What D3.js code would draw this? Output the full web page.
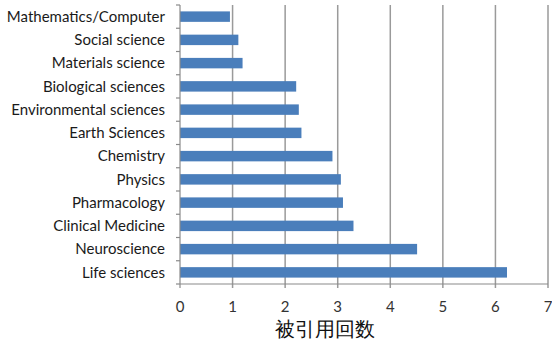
<!DOCTYPE html>
<html><head><meta charset="utf-8">
<script src="https://cdn.jsdelivr.net/npm/d3@7"></script>
<style>
body{margin:0;background:#fff;}
text{font-family:Lato,"Open Sans",sans-serif;}
</style></head>
<body>
<svg id="c" width="552" height="342"></svg>
<script>
const categories = ["Mathematics/Computer","Social science","Materials science","Biological sciences","Environmental sciences","Earth Sciences","Chemistry","Physics","Pharmacology","Clinical Medicine","Neuroscience","Life sciences"];
const values = [0.95,1.11,1.19,2.21,2.26,2.31,2.90,3.06,3.10,3.30,4.51,6.22];
const xTicks = [0,1,2,3,4,5,6,7];
const xTitle = "被引用回数";

const svg = d3.select("#c");
const m = {left:180, right:4, top:5, bottom:58};
const W = 552, H = 342;
const x = d3.scaleLinear().domain([0,7]).range([m.left, W - m.right]);
const y = d3.scaleBand().domain(categories).range([m.top, H - m.bottom]).paddingInner(0.55).paddingOuter(0.275);
const yb = d3.scaleBand().domain(categories).range([m.top, H - m.bottom]);

// gridlines
svg.append("g").selectAll("line").data(xTicks.slice(1)).join("line")
  .attr("x1", d=>x(d)).attr("x2", d=>x(d))
  .attr("y1", m.top).attr("y2", H - m.bottom + 4)
  .attr("stroke", "#9a9a9a").attr("stroke-width", 1.5);

// bars
svg.append("g").selectAll("rect").data(categories).join("rect")
  .attr("x", x(0)).attr("y", d=>y(d))
  .attr("width", (d,i)=>x(values[i]) - x(0))
  .attr("height", y.bandwidth())
  .attr("fill", "#4a7ebb");

// left axis
const ly = svg.append("g").attr("stroke","#8a8a8a").attr("stroke-width",1.2);
ly.append("line").attr("x1", m.left).attr("x2", m.left).attr("y1", m.top).attr("y2", H - m.bottom + 4);
const bounds = categories.map(c=>yb(c)).concat([H - m.bottom]);
ly.selectAll("line.t").data(bounds).join("line").attr("class","t")
  .attr("x1", m.left - 4).attr("x2", m.left).attr("y1", d=>d).attr("y2", d=>d);
// bottom axis line
ly.append("line").attr("x1", m.left).attr("x2", x(7)).attr("y1", H - m.bottom).attr("y2", H - m.bottom);

// category labels
svg.append("g").selectAll("text").data(categories).join("text")
  .attr("x", m.left - 15).attr("y", d=>yb(d) + yb.bandwidth()/2)
  .attr("dy","0.35em").attr("text-anchor","end")
  .attr("font-size", 15).attr("fill","#1a1a1a").text(d=>d);

// x tick labels
svg.append("g").selectAll("text").data(xTicks).join("text")
  .attr("x", d=>x(d)).attr("y", 307).attr("dy","0.35em")
  .attr("text-anchor","middle").attr("font-size", 15).attr("fill","#333").text(d=>d);

// x title
svg.append("text").attr("x", 275).attr("y", 329).attr("dy","0.35em")
  .attr("font-family","'Noto Sans CJK JP'").attr("font-size", 20).attr("fill","#111").text(xTitle);
</script>
</body></html>
